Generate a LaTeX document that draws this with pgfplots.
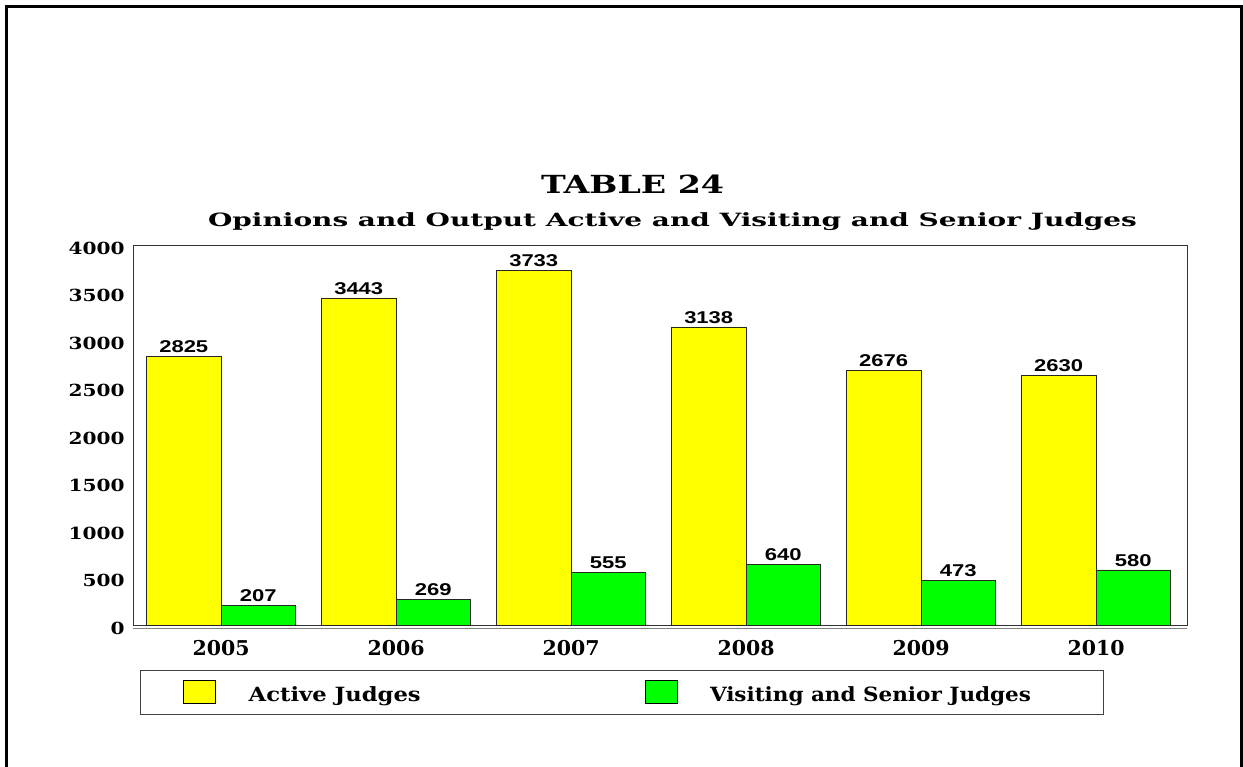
\documentclass[border=0pt]{standalone}
\usepackage{fontspec}
\setmainfont{DejaVu Serif Condensed}
\newfontfamily\barfont{Liberation Sans}
\usepackage{graphicx}
\usepackage{pgfplots}
\pgfplotsset{compat=1.18}
\definecolor{barY}{RGB}{255,255,0}
\definecolor{barG}{RGB}{0,255,0}
\newlength\fitlen
\newcommand\sxr[3]{\settowidth\fitlen{#2}\pgfmathsetmacro\fitr{#1/\fitlen}\scalebox{\fitr}[1]{#3}}
\pgfplotsset{/pgf/number format/.cd, 1000 sep={}, assume math mode=true}
\begin{document}
\begin{tikzpicture}
\path[use as bounding box] (0pt,0pt) rectangle ({1243*0.75pt},{-767*0.75pt});
\begin{axis}[
  at={({133*0.75pt},{-625*0.75pt})}, anchor=south west,
  scale only axis, width=790.5pt, height=285pt,
  ybar=0pt, bar width=55.9pt,
  xmin=-0.503, xmax=5.52, ymin=0, ymax=4000,
  xtick={0,1,2,3,4,5},
  xticklabels={\sxr{42.75pt}{2005}{2005},\sxr{42.75pt}{2005}{2006},\sxr{42.75pt}{2005}{2007},\sxr{42.75pt}{2005}{2008},\sxr{42.75pt}{2005}{2009},\sxr{42.75pt}{2005}{2010}},
  ytick={0,500,...,4000},
  yticklabel={\sxr{42pt}{4000}{\pgfmathprintnumber{\tick}}},
  major tick length=0pt,
  axis line style={draw=black!80, line width=0.6pt},
  yticklabel style={font=\bfseries\fontsize{12.5}{14}\selectfont, anchor=east, inner sep=0pt, xshift=-6pt, yshift=-2.25pt},
  xticklabel style={font=\bfseries\fontsize{15.3}{17}\selectfont, anchor=north, inner sep=0pt, yshift=-11pt},
  nodes near coords={\sxr{36.75pt}{2825}{\pgfmathprintnumber\pgfplotspointmeta}},
  every node near coord/.append style={font=\barfont\bfseries\fontsize{12.8}{14}\selectfont, inner sep=0pt, yshift=2.5pt, text=black},
  legend columns=2,
  legend style={at={(axis description cs:0.0066,-0.118)}, anchor=north west, draw=black!75, line width=0.6pt,
    inner xsep=32.25pt, inner ysep=7.6pt, font=\bfseries\fontsize{14.7}{17}\selectfont,
    column sep=0pt, nodes={inner sep=0pt, anchor=base west},
    /tikz/every odd column/.append style={column sep=24.5pt}},
  clip=false,
]
\addplot[fill=barY, draw=black!85, line width=0.5pt,
  legend image code/.code={\draw[fill=barY, draw=black, line width=0.5pt] (0pt,-1.5pt) rectangle (24pt,15.7pt);}]
  coordinates {(0,2825) (1,3443) (2,3733) (3,3138) (4,2676) (5,2630)};
\addlegendentry{\makebox[297pt][l]{\sxr{129pt}{Active Judges}{Active Judges}}}
\addplot[fill=barG, draw=black!85, line width=0.5pt,
  legend image code/.code={\draw[fill=barG, draw=black, line width=0.5pt] (0pt,-1.5pt) rectangle (24pt,15.7pt);}]
  coordinates {(0,207) (1,269) (2,555) (3,640) (4,473) (5,580)};
\addlegendentry{\makebox[263pt][l]{\sxr{240.75pt}{Visiting and Senior Judges}{Visiting and Senior Judges}}}
\draw[black!50, line width=0.75pt] ([yshift=-2.25pt]rel axis cs:0,0) -- ([yshift=-2.25pt]rel axis cs:1,0);
\end{axis}
\node[anchor=base, font=\bfseries\fontsize{18.7}{22}\selectfont] at ({632.5*0.75pt},{-193*0.75pt}) {\sxr{137.25pt}{TABLE 24}{TABLE 24}};
\node[anchor=base, font=\bfseries\fontsize{13.7}{16}\selectfont] at ({672.5*0.75pt},{-226.5*0.75pt}) {\sxr{696.75pt}{Opinions and Output Active and Visiting and Senior Judges}{Opinions and Output Active and Visiting and Senior Judges}};
\draw[line width=2.25pt] ({6.5*0.75pt},{-775*0.75pt}) -- ({6.5*0.75pt},{-6.5*0.75pt}) -- ({1241*0.75pt},{-6.5*0.75pt}) -- ({1241*0.75pt},{-775*0.75pt});
\end{tikzpicture}
\end{document}
